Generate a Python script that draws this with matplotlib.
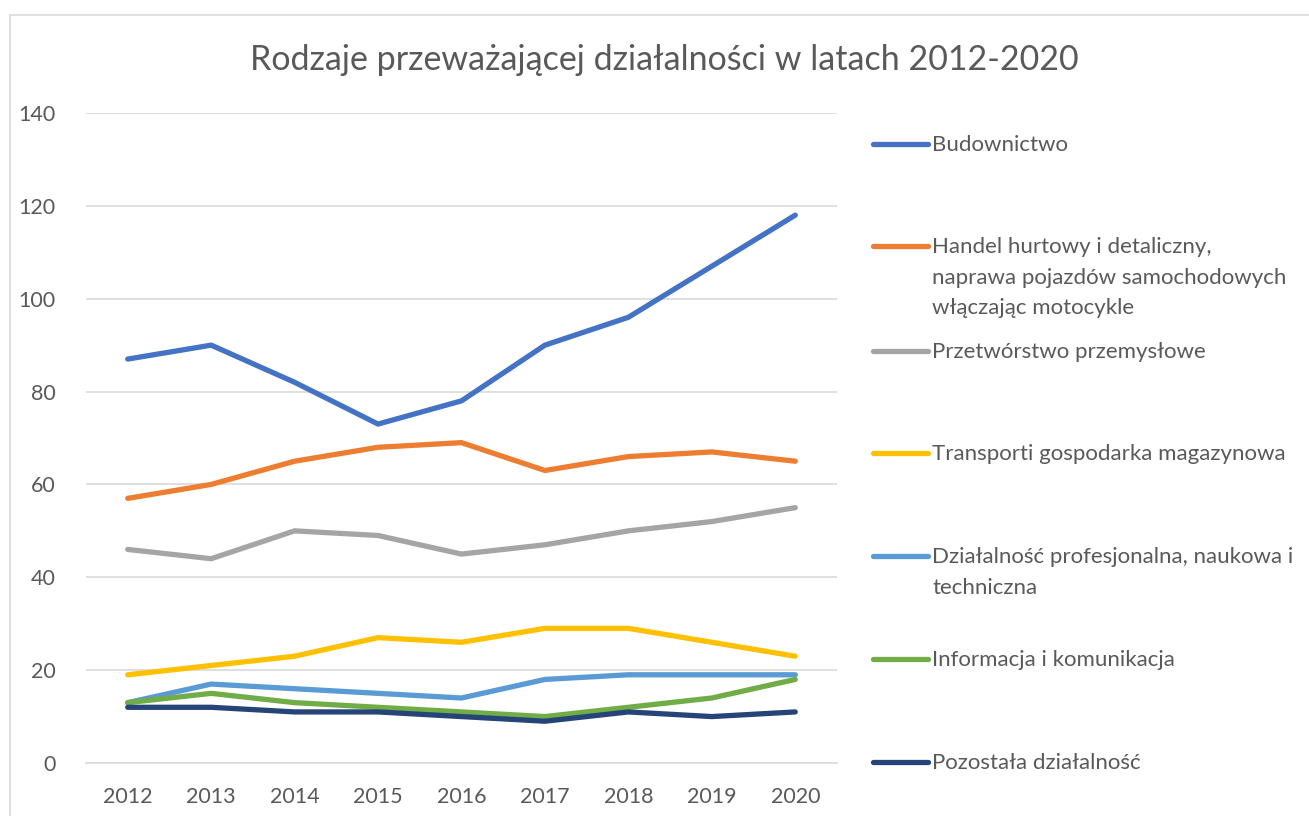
import matplotlib
matplotlib.use("Agg")
import matplotlib.pyplot as plt
from matplotlib.lines import Line2D
from matplotlib.patches import Rectangle

years = ["2012", "2013", "2014", "2015", "2016", "2017", "2018", "2019", "2020"]

budownictwo = [87, 90, 82, 73, 78, 90, 96, 107, 118]
handel = [57, 60, 65, 68, 69, 63, 66, 67, 65]
przetworstwo = [46, 44, 50, 49, 45, 47, 50, 52, 55]
transport = [19, 21, 23, 27, 26, 29, 29, 26, 23]
dzialalnosc_prof = [13, 17, 16, 15, 14, 18, 19, 19, 19]
informacja = [13, 15, 13, 12, 11, 10, 12, 14, 18]
pozostala = [12, 12, 11, 11, 10, 9, 11, 10, 11]

series_names = [
    "Budownictwo",
    "Handel hurtowy i detaliczny,\nnaprawa pojazdów samochodowych\nwłączając motocykle",
    "Przetwórstwo przemysłowe",
    "Transporti gospodarka magazynowa",
    "Działalność profesjonalna, naukowa i\ntechniczna",
    "Informacja i komunikacja",
    "Pozostała działalność",
]
series_values = [budownictwo, handel, przetworstwo, transport,
                 dzialalnosc_prof, informacja, pozostala]
colors = ["#4472C4", "#ED7D31", "#A5A5A5", "#FFC000", "#5B9BD5", "#70AD47", "#264478"]

title = "Rodzaje przeważającej działalności w latach 2012-2020"
yticks = [0, 20, 40, 60, 80, 100, 120, 140]

FONT = ["Lato", "DejaVu Sans"]
TXT = "#595959"

W, H = 1309, 816
fig = plt.figure(figsize=(W / 100, H / 100), dpi=100)
fig.patch.set_facecolor("white")

# chart border
fig.add_artist(Rectangle((10 / W, -0.05), 1.2, 1 - 14.5 / H + 0.05,
                         transform=fig.transFigure, fill=False,
                         edgecolor="#D9D9D9", linewidth=1.2))

left, right, top, bottom = 86, 837, 113, 763
ax = fig.add_axes([left / W, 1 - bottom / H, (right - left) / W, (bottom - top) / H])

x = list(range(len(years)))
for vals, c in zip(series_values, colors):
    ax.plot(x, vals, color=c, lw=3.8, solid_capstyle="round", solid_joinstyle="round")

ax.set_xlim(-0.5, len(years) - 0.5)
ax.set_ylim(0, 140)
ax.set_yticks(yticks)
ax.set_xticks(x)
ax.set_xticklabels(years)
ax.grid(axis="y", color="#D9D9D9", lw=1.2)
ax.set_axisbelow(True)
for s in ["top", "right", "left"]:
    ax.spines[s].set_visible(False)
ax.spines["bottom"].set_color("#D9D9D9")
ax.spines["bottom"].set_linewidth(1.2)
ax.tick_params(length=0, labelsize=15.5, colors=TXT)
ax.tick_params(axis="y", pad=22)
ax.tick_params(axis="x", pad=17)
for lab in ax.get_xticklabels() + ax.get_yticklabels():
    lab.set_family(FONT)

fig.text(664 / W, 1 - 60 / H, title, ha="center", va="center",
         fontsize=24.5, color=TXT, family=FONT)

# legend
legend_y = [144, 246, 351, 453, 556, 659, 762]
line_gap = 30.5
for name, c, yy in zip(series_names, colors, legend_y):
    fig.add_artist(Line2D([873 / W, 928 / W], [1 - yy / H, 1 - yy / H],
                          transform=fig.transFigure, color=c, lw=3.8,
                          solid_capstyle="round"))
    for i, part in enumerate(name.split("\n")):
        fig.text(932 / W, 1 - (yy + 1 + i * line_gap) / H, part, ha="left",
                 va="center", fontsize=16, color=TXT, family=FONT)

fig.savefig("out.png", dpi=100)
